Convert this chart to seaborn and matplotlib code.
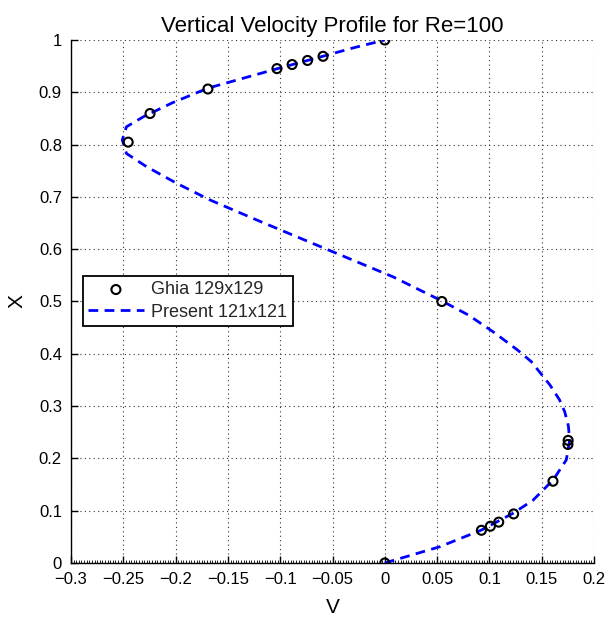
import matplotlib
matplotlib.use("Agg")
import matplotlib.pyplot as plt
import seaborn as sns
import pandas as pd
from matplotlib.ticker import MultipleLocator

# Ghia et al. (129x129) reference data
ghia_x = [1.0000, 0.9688, 0.9609, 0.9531, 0.9453, 0.9063, 0.8594, 0.8047,
          0.5000, 0.2344, 0.2266, 0.1563, 0.0938, 0.0781, 0.0703, 0.0625, 0.0000]
ghia_v = [0.0, -0.05906, -0.07391, -0.08864, -0.10313, -0.16914, -0.22445, -0.24533,
          0.05454, 0.17527, 0.17507, 0.16077, 0.12317, 0.10890, 0.10091, 0.09233, 0.0]

# Present solution (121x121)
present_x = [0.0, 0.031, 0.063, 0.095, 0.120, 0.159, 0.197, 0.235, 0.262, 0.289,
             0.312, 0.340, 0.385, 0.407, 0.440, 0.474, 0.5015, 0.547, 0.600, 0.656,
             0.694, 0.726, 0.758, 0.783, 0.809, 0.834, 0.853, 0.880, 0.908, 0.945,
             0.969, 0.985, 1.0]
present_v = [0.0, 0.0525, 0.0924, 0.1226, 0.1417, 0.161, 0.1735, 0.1767, 0.1755, 0.172,
             0.167, 0.158, 0.140, 0.127, 0.105, 0.080, 0.0541, 0.008, -0.0557, -0.1226,
             -0.167, -0.199, -0.228, -0.247, -0.251, -0.247, -0.231, -0.203, -0.169, -0.103,
             -0.059, -0.030, 0.0]

sns.set_theme(style="white")
plt.rcParams['font.family'] = ['Liberation Sans', 'DejaVu Sans']

fig = plt.figure(figsize=(6.10, 6.22), dpi=100)
ax = fig.add_axes([0.1164, 0.0949, 0.8574, 0.8408])

ghia_df = pd.DataFrame({"V": ghia_v, "X": ghia_x})
pres_df = pd.DataFrame({"V": present_v, "X": present_x})

sns.lineplot(data=pres_df, x="V", y="X", sort=False, estimator=None, ax=ax,
             color=(0, 0, 1), linewidth=2.0, label="Present 121x121", zorder=2)
ax.lines[-1].set_dashes([3.5, 2.3])
sns.scatterplot(data=ghia_df, x="V", y="X", ax=ax, marker="o", s=42,
                facecolor="none", edgecolor="black", linewidth=1.5,
                label="Ghia 129x129", zorder=3)

ax.set_xlim(-0.3, 0.2)
ax.set_ylim(0, 1)
ax.xaxis.set_minor_locator(MultipleLocator(0.0025))
ax.set_xticks([-0.3, -0.25, -0.2, -0.15, -0.1, -0.05, 0, 0.05, 0.1, 0.15, 0.2])
ax.set_xticklabels(['\u22120.3', '\u22120.25', '\u22120.2', '\u22120.15', '\u22120.1',
                    '\u22120.05', '0', '0.05', '0.1', '0.15', '0.2'])
ax.set_yticks([0, 0.1, 0.2, 0.3, 0.4, 0.5, 0.6, 0.7, 0.8, 0.9, 1.0])
ax.set_yticklabels(['0', '0.1', '0.2', '0.3', '0.4', '0.5', '0.6', '0.7', '0.8', '0.9', '1'])

ax.grid(True, which="major", linestyle=(0, (1, 3)), color="#333333", linewidth=0.8)
ax.tick_params(axis="both", which="major", direction="in", length=5, width=1,
               labelsize=12, color="black", labelcolor="black", pad=6.5,
               bottom=True, left=True)
ax.tick_params(axis="x", which="minor", direction="in", length=2.5, width=0.6,
               bottom=True, color="black")
for s in ["top", "right"]:
    ax.spines[s].set_visible(False)
for s in ["left", "bottom"]:
    ax.spines[s].set_color("black")
    ax.spines[s].set_linewidth(1.0)

ax.set_xlabel("V", fontsize=15, color="black", labelpad=8)
ax.set_ylabel("X", fontsize=15, color="black", labelpad=9)
ax.set_title("Vertical Velocity Profile for Re=100", fontsize=16, color="black", pad=6)

handles, labels = ax.get_legend_handles_labels()
order = [labels.index("Ghia 129x129"), labels.index("Present 121x121")]
leg = ax.legend([handles[i] for i in order], [labels[i] for i in order],
                loc="upper left", bbox_to_anchor=(0.022, 0.549), fontsize=13,
                frameon=True, fancybox=False, edgecolor="black", framealpha=1,
                borderpad=0.3, handlelength=3.1, handletextpad=0.4, labelspacing=0.3,
                borderaxespad=0)
leg.get_frame().set_linewidth(1.3)

fig.savefig("out.png", dpi=100)
